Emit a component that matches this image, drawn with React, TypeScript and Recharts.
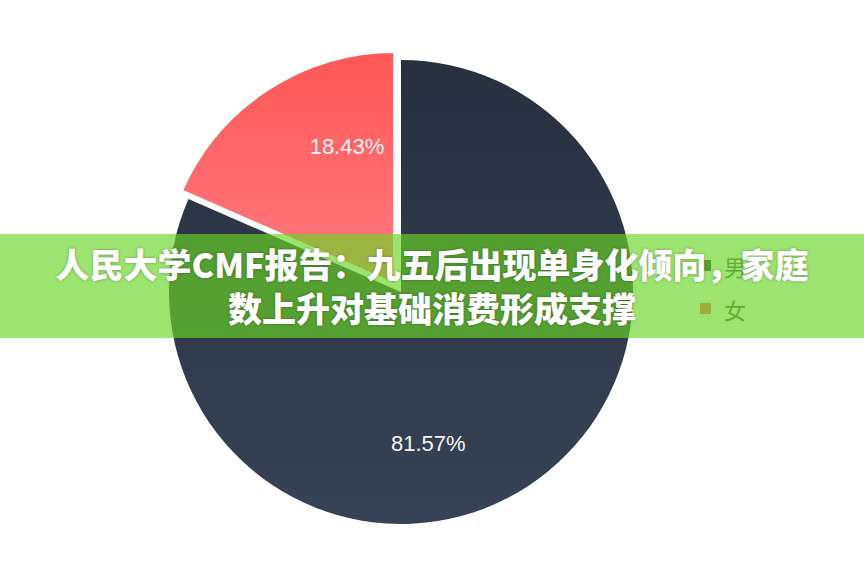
import { PieChart, Pie, Cell, Legend } from "recharts";

const names = ["男", "女"];
const shares = [81.57, 18.43];
const colors = ["url(#gradMale)", "url(#gradFemale)"];
const legendColors = ["#2e3747", "#ff6468"];
const titleLines = ["人民大学CMF报告：九五后出现单身化倾向，家庭", "数上升对基础消费形成支撑"];

const data = names.map((name, i) => ({ name, value: shares[i] }));

const RAD = Math.PI / 180;

// labels in the original sit a bit clockwise of the slice middle
const labelShift = [-23, -14];

function renderLabel(props: any) {
  const { cx, cy, midAngle, outerRadius, index, value } = props;
  const a = (midAngle + labelShift[index]) * RAD;
  const r = outerRadius * (index === 0 ? 0.665 : 0.625);
  const x = cx + r * Math.cos(a);
  const y = cy - r * Math.sin(a);
  return (
    <text
      x={x}
      y={y}
      fill="#f4f4f4"
      fontSize={22}
      fontFamily="Liberation Sans, Arial, sans-serif"
      textAnchor="middle"
      dominantBaseline="central"
    >
      {value.toFixed(2)}%
    </text>
  );
}

function LegendBox() {
  return (
    <div style={{ fontFamily: "Noto Sans CJK SC, sans-serif" }}>
      {names.map((n, i) => (
        <div key={n} style={{ display: "flex", alignItems: "center", height: 43 }}>
          <span
            style={{
              display: "inline-block",
              width: 11,
              height: 11,
              background: legendColors[i],
              marginRight: 13,
            }}
          />
          <span style={{ fontSize: 22, color: "#5a5a5a" }}>{n}</span>
        </div>
      ))}
    </div>
  );
}

export default function App() {
  return (
    <div
      style={{
        position: "fixed",
        left: 0,
        top: 0,
        width: 864,
        height: 575,
        background: "#fff",
        overflow: "hidden",
      }}
    >
      <PieChart width={864} height={575} margin={{ top: 0, right: 0, bottom: 0, left: 0 }}>
        <defs>
          <linearGradient id="gradMale" x1="0" y1="0" x2="0" y2="1">
            <stop offset="0%" stopColor="#283040" />
            <stop offset="100%" stopColor="#364255" />
          </linearGradient>
          <linearGradient id="gradFemale" x1="0" y1="0" x2="0" y2="1">
            <stop offset="0%" stopColor="#ff5656" />
            <stop offset="100%" stopColor="#ff7b80" />
          </linearGradient>
        </defs>
        <Pie
          data={data}
          dataKey="value"
          nameKey="name"
          cx={401}
          cy={292}
          outerRadius={232}
          startAngle={90}
          endAngle={-270}
          stroke="none"
          label={(p: any) => (p.index === 0 ? renderLabel(p) : null)}
          labelLine={false}
          isAnimationActive={false}
        >
          {data.map((d, i) => (
            <Cell key={d.name} fill={i === 0 ? colors[0] : "transparent"} />
          ))}
        </Pie>
        <Pie
          data={data}
          dataKey="value"
          nameKey="name"
          cx={395}
          cy={285}
          outerRadius={234}
          startAngle={90}
          endAngle={-270}
          label={(p: any) => (p.index === 1 ? renderLabel(p) : null)}
          labelLine={false}
          isAnimationActive={false}
        >
          {data.map((d, i) => (
            <Cell
              key={d.name}
              fill={i === 1 ? colors[1] : "transparent"}
              stroke={i === 1 ? "#fff" : "none"}
              strokeWidth={i === 1 ? 4 : 0}
              strokeLinejoin="round"
            />
          ))}
        </Pie>
        <Legend
          layout="vertical"
          align="right"
          verticalAlign="middle"
          content={() => <LegendBox />}
          wrapperStyle={{ left: 700, top: 244, width: 80 }}
        />
      </PieChart>
      <div
        style={{
          position: "absolute",
          left: 0,
          top: 234,
          width: 864,
          height: 104,
          background: "rgba(104, 214, 36, 0.66)",
          display: "flex",
          flexDirection: "column",
          alignItems: "center",
          justifyContent: "center",
          color: "#fff",
          fontFamily: "Noto Sans CJK SC, sans-serif",
          fontWeight: 900,
          fontSize: 34,
          lineHeight: "44px",
          textShadow: "0 0 3px rgba(0,0,0,0.35)",
        }}
      >
        {titleLines.map((t) => (
          <div key={t} style={{ whiteSpace: "nowrap" }}>
            {t}
          </div>
        ))}
      </div>
    </div>
  );
}
